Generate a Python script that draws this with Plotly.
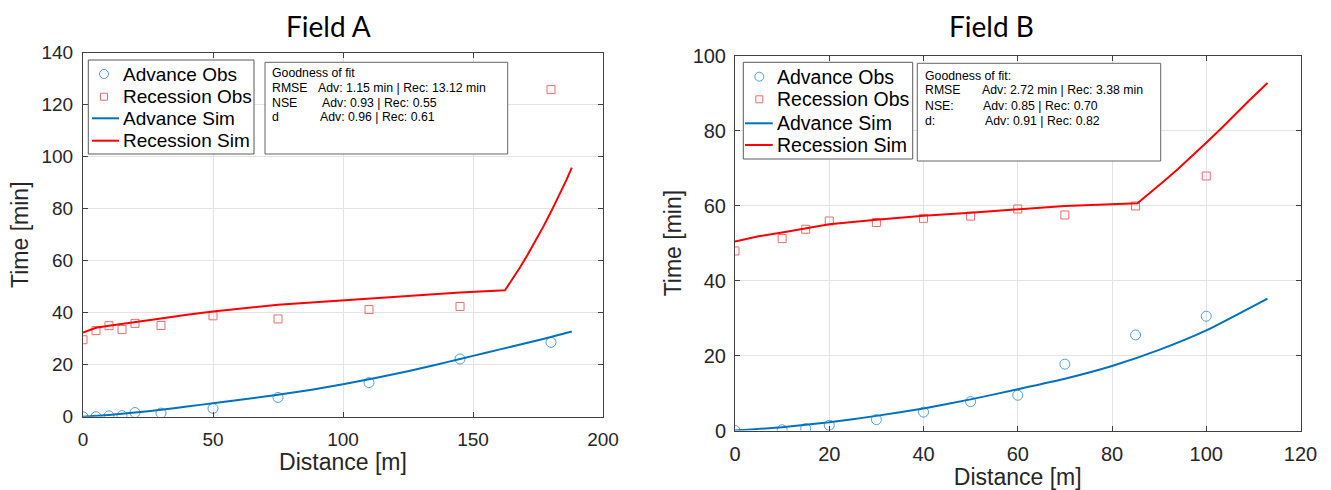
import plotly.graph_objects as go

W, H = 1331, 490

# ---------------- Field A data ----------------
a_obs_x = [0, 5, 10, 15, 20, 30, 50, 75, 110, 145, 180]
a_adv_obs = [0.0, 0.0, 0.3, 0.4, 1.6, 1.4, 3.2, 7.4, 13.1, 22.2, 28.6]
a_rec_obs = [29.6, 33.1, 35.0, 33.5, 35.9, 35.1, 38.8, 37.6, 41.2, 42.4, 125.8]

a_adv_sim_x = [0, 10, 20, 30, 40, 50, 62, 75, 88, 100, 112, 125, 135, 145, 155, 165, 177, 188]
a_adv_sim_y = [0.0, 0.7, 1.6, 2.7, 3.9, 5.2, 6.7, 8.4, 10.4, 12.5, 14.8, 17.5, 19.8, 22.2,
               24.6, 27.0, 29.9, 32.8]

a_rec_sim_x = [0, 5, 10, 20, 30, 40, 50, 75, 100, 125, 145, 162.3, 165, 168, 171, 174, 177,
               180, 183, 186, 188]
a_rec_sim_y = [32.4, 34.2, 35.0, 36.3, 37.8, 39.2, 40.5, 43.1, 44.7, 46.3, 47.8, 48.6,
               52.5, 57.3, 62.3, 67.5, 73.0, 78.8, 84.8, 91.2, 95.8]

# ---------------- Field B data ----------------
b_obs_x = [0, 10, 15, 20, 30, 40, 50, 60, 70, 85, 100]
b_adv_obs = [0.0, 0.2, 0.5, 1.4, 2.9, 4.9, 7.7, 9.4, 17.7, 25.5, 30.5]
b_rec_obs = [47.9, 51.2, 53.7, 55.9, 55.5, 56.6, 57.2, 59.1, 57.5, 59.9, 67.9]

b_adv_sim_x = [0, 10, 20, 30, 40, 50, 60, 70, 80, 90, 100, 113]
b_adv_sim_y = [0.0, 0.9, 2.2, 3.9, 5.9, 8.3, 11.0, 13.8, 17.2, 21.5, 26.7, 35.2]

b_rec_sim_x = [0, 2, 5, 10, 15, 20, 30, 40, 50, 60, 70, 85.4, 88, 91, 94, 97, 100, 103,
               106, 109, 113]
b_rec_sim_y = [50.4, 51.0, 51.8, 52.8, 53.8, 55.0, 56.2, 57.3, 58.1, 59.0, 59.9, 60.6,
               63.3, 66.5, 69.8, 73.2, 76.8, 80.4, 84.2, 87.9, 92.7]

legend_names = ["Advance Obs", "Recession Obs", "Advance Sim", "Recession Sim"]

fit_a_labels = ["RMSE", "NSE", "d"]
fit_a_values = ["Adv: 1.15 min | Rec: 13.12 min", "Adv: 0.93 | Rec: 0.55", "Adv: 0.96 | Rec: 0.61"]
fit_b_labels = ["RMSE", "NSE:", "d:"]
fit_b_values = ["Adv: 2.72 min | Rec: 3.38 min", "Adv: 0.85 | Rec: 0.70", "Adv: 0.91 | Rec: 0.82"]

# ---------------- styling ----------------
C_ADV_OBS = "#4f9fdc"
C_REC_OBS = "#f06a6a"
C_ADV_SIM = "#0072BD"
C_REC_SIM = "#FF0000"
FONT = "Liberation Sans, Arial, sans-serif"


def px(x):
    return x / W


def py(y):
    return 1 - y / H


fig = go.Figure()


def add_field(xa, ya, ox, adv, rec, asx, asy, rsx, rsy):
    fig.add_trace(go.Scatter(x=ox, y=adv, mode="markers", name=legend_names[0],
                             marker=dict(symbol="circle-open", size=10, color=C_ADV_OBS,
                                         line=dict(width=1)),
                             xaxis=xa, yaxis=ya))
    fig.add_trace(go.Scatter(x=ox, y=rec, mode="markers", name=legend_names[1],
                             marker=dict(symbol="square-open", size=8, color=C_REC_OBS,
                                         line=dict(width=1)),
                             xaxis=xa, yaxis=ya))
    fig.add_trace(go.Scatter(x=asx, y=asy, mode="lines", name=legend_names[2],
                             line=dict(color=C_ADV_SIM, width=2, shape="spline", smoothing=0.5),
                             xaxis=xa, yaxis=ya))
    fig.add_trace(go.Scatter(x=rsx, y=rsy, mode="lines", name=legend_names[3],
                             line=dict(color=C_REC_SIM, width=2),
                             xaxis=xa, yaxis=ya))


add_field("x", "y", a_obs_x, a_adv_obs, a_rec_obs,
          a_adv_sim_x, a_adv_sim_y, a_rec_sim_x, a_rec_sim_y)
add_field("x2", "y2", b_obs_x, b_adv_obs, b_rec_obs,
          b_adv_sim_x, b_adv_sim_y, b_rec_sim_x, b_rec_sim_y)

axis_common = dict(
    showline=True, linecolor="#404040", linewidth=1, mirror="allticks",
    ticks="inside", ticklen=5, tickcolor="#404040",
    showgrid=True, gridcolor="#e3e3e3", gridwidth=1, zeroline=False,
    fixedrange=True, automargin=False,
)

fig.update_layout(
    width=W, height=H,
    margin=dict(l=0, r=0, t=0, b=0, pad=0, autoexpand=False),
    paper_bgcolor="white", plot_bgcolor="white",
    font=dict(family=FONT, color="#262626"),
    showlegend=False,
    xaxis=dict(domain=[px(83), px(603)], range=[0, 200], dtick=50, anchor="y",
               tickfont=dict(size=19), ticklabelstandoff=5,
               title=dict(text="Distance [m]", font=dict(size=23), standoff=4),
               **axis_common),
    yaxis=dict(domain=[py(416.7), py(52.7)], range=[0, 140], dtick=20, anchor="x",
               tickfont=dict(size=19), ticklabelstandoff=5,
               title=dict(text="Time [min]", font=dict(size=23), standoff=6),
               **axis_common),
    xaxis2=dict(domain=[px(735), px(1300.5)], range=[0, 120], dtick=20, anchor="y2",
                tickfont=dict(size=20), ticklabelstandoff=5,
                title=dict(text="Distance [m]", font=dict(size=23), standoff=4),
                **axis_common),
    yaxis2=dict(domain=[py(430.5), py(55.7)], range=[0, 100], dtick=20, anchor="x2",
                tickfont=dict(size=20), ticklabelstandoff=4,
                title=dict(text="Time [min]", font=dict(size=23), standoff=4),
                **axis_common),
)

annotations = []
shapes = []

# Titles
for ttl, cx in (("Field A", 328), ("Field B", 991)):
    annotations.append(dict(text=ttl, x=px(cx), y=py(26), xref="paper", yref="paper",
                            xanchor="center", yanchor="middle", showarrow=False,
                            font=dict(family="Lato, Open Sans, sans-serif", size=28,
                                      color="#000000")))


def legend_box(x0, y0, x1, y1, rows_y, mark_x, line_x0, line_x1, text_x, fsize):
    shapes.append(dict(type="rect", xref="paper", yref="paper",
                       x0=px(x0), x1=px(x1), y0=py(y1), y1=py(y0),
                       line=dict(color="#5a5a5a", width=1), fillcolor="white", layer="above"))
    r = 4.5
    shapes.append(dict(type="circle", xref="paper", yref="paper",
                       x0=px(mark_x - r), x1=px(mark_x + r),
                       y0=py(rows_y[0] + r), y1=py(rows_y[0] - r),
                       line=dict(color=C_ADV_OBS, width=1), layer="above"))
    s = 3.5
    shapes.append(dict(type="rect", xref="paper", yref="paper",
                       x0=px(mark_x - s), x1=px(mark_x + s),
                       y0=py(rows_y[1] + s), y1=py(rows_y[1] - s),
                       line=dict(color=C_REC_OBS, width=1), layer="above"))
    for ry, col in ((rows_y[2], C_ADV_SIM), (rows_y[3], C_REC_SIM)):
        shapes.append(dict(type="line", xref="paper", yref="paper",
                           x0=px(line_x0), x1=px(line_x1), y0=py(ry), y1=py(ry),
                           line=dict(color=col, width=2), layer="above"))
    for name, ry in zip(legend_names, rows_y):
        annotations.append(dict(text=name, x=px(text_x), y=py(ry), xref="paper", yref="paper",
                                xanchor="left", yanchor="middle", showarrow=False,
                                font=dict(size=fsize, family=FONT, color="#000000")))


legend_box(88.3, 60, 254, 154, [74, 96.7, 118.3, 140.7], 104, 92, 119, 120.5, 19)
legend_box(743.3, 62.3, 912.7, 159, [76.7, 99.3, 123.3, 145], 759.3, 745, 772.7, 775.5, 19.5)


def fit_box(x0, y0, x1, y1, head, head_y, labels, values, rows_y, lab_x, val_x):
    shapes.append(dict(type="rect", xref="paper", yref="paper",
                       x0=px(x0), x1=px(x1), y0=py(y1), y1=py(y0),
                       line=dict(color="#666666", width=1), fillcolor="white", layer="above"))
    annotations.append(dict(text=head, x=px(lab_x), y=py(head_y), xref="paper", yref="paper",
                            xanchor="left", yanchor="middle", showarrow=False,
                            font=dict(size=12.3, family=FONT, color="#000000")))
    for lab, val, ry, vx in zip(labels, values, rows_y, val_x):
        annotations.append(dict(text=lab, x=px(lab_x), y=py(ry), xref="paper", yref="paper",
                                xanchor="left", yanchor="middle", showarrow=False,
                                font=dict(size=12.3, family=FONT, color="#000000")))
        annotations.append(dict(text=val, x=px(vx), y=py(ry), xref="paper", yref="paper",
                                xanchor="left", yanchor="middle", showarrow=False,
                                font=dict(size=12.3, family=FONT, color="#000000")))


fit_box(265, 62.3, 507.7, 154, "Goodness of fit", 73.3, fit_a_labels, fit_a_values,
        [88.3, 102.7, 117.3], 270, [316, 320, 318.3])
fit_box(917.3, 63.3, 1160.7, 161, "Goodness of fit:", 75.7, fit_b_labels, fit_b_values,
        [90, 105.7, 121], 922.7, [980, 980.7, 983.3])

fig.update_layout(annotations=annotations, shapes=shapes)

fig.write_html("out.html")
